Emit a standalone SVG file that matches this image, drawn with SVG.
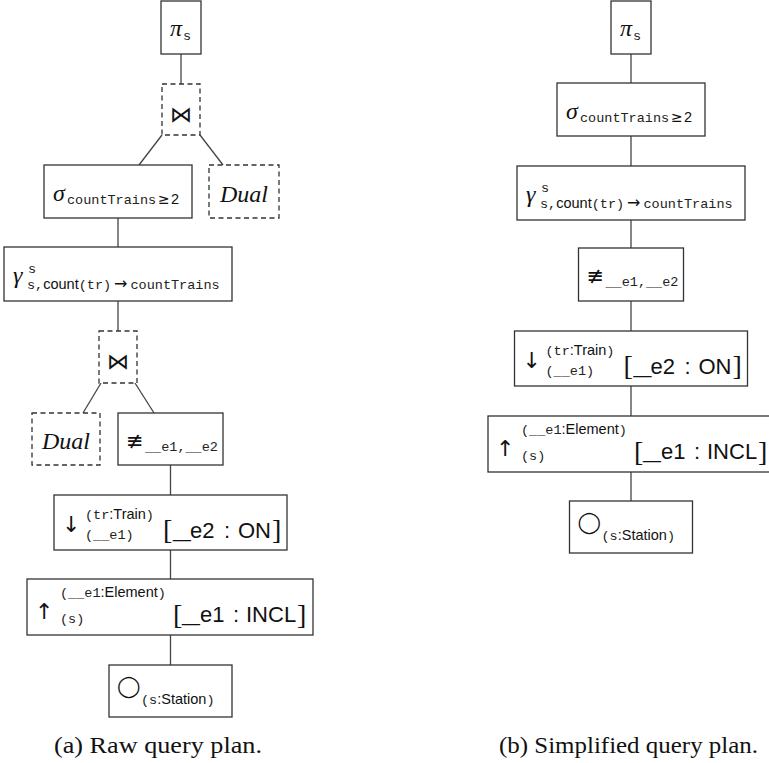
<svg xmlns="http://www.w3.org/2000/svg" width="769" height="763" viewBox="0 0 769 763">
  <style>
    .box { fill: #fff; stroke: #333; stroke-width: 1.3; }
    .dash { fill: #fff; stroke: #333; stroke-width: 1.3; stroke-dasharray: 5 3.5; }
    .edge { fill: none; stroke: #444; stroke-width: 1.3; }
    .mi { font-family: "Liberation Serif", serif; font-style: italic; font-size: 24px; fill: #111; }
    .tt { font-family: "Liberation Mono", monospace; font-size: 13.5px; fill: #222; }
    .sf { font-family: "Liberation Sans", sans-serif; font-size: 14.5px; fill: #111; }
    .sfl { font-family: "Liberation Sans", sans-serif; font-size: 22px; fill: #111; }
    .us { font-size: 16px; }
    .sym { font-family: "DejaVu Sans", sans-serif; fill: #111; }
    .join { font-family: "DejaVu Sans", sans-serif; font-size: 22px; fill: #111; }
    .br { font-family: "Liberation Serif", serif; font-size: 28px; fill: #111; }
    .cap { font-family: "Liberation Serif", serif; font-size: 23.5px; fill: #111; }
  </style>

  <!-- tree edges -->
  <g id="connectors">
    <path class="edge" d="M181 54 V84"/>
    <path class="edge" d="M162 135 L139 165"/>
    <path class="edge" d="M200 135 L223 165"/>
    <path class="edge" d="M118 218 V247"/>
    <path class="edge" d="M118 301 V331"/>
    <path class="edge" d="M101 383 L83 413"/>
    <path class="edge" d="M135 383 L154 413"/>
    <path class="edge" d="M170.5 465 V495"/>
    <path class="edge" d="M170.5 550 V579"/>
    <path class="edge" d="M170.5 635 V665"/>

    <path class="edge" d="M631 54 V83"/>
    <path class="edge" d="M631 136 V166"/>
    <path class="edge" d="M631 220 V248"/>
    <path class="edge" d="M631 301 V331"/>
    <path class="edge" d="M631 386 V416"/>
    <path class="edge" d="M631 472 V501"/>
  </g>

  <!-- ===== (a) raw plan ===== -->
  <g id="a-projection" transform="translate(161,1)">
    <rect class="box" width="40" height="53"/>
    <text class="mi" x="9" y="35">π</text>
    <text class="tt" x="22" y="39">s</text>
  </g>

  <g id="a-join-top" transform="translate(162,84)">
    <rect class="dash" width="38" height="51"/>
    <text class="join" x="19" y="38" text-anchor="middle">⋈</text>
  </g>

  <g id="a-selection" transform="translate(44,165)">
    <rect class="box" width="148" height="53"/>
    <text class="mi" x="9" y="36">σ</text>
    <text class="tt" x="23" y="39">countTrains</text>
    <text class="sym" x="114" y="39" font-size="14">≥</text>
    <text class="sf" x="127" y="39">2</text>
  </g>

  <g id="a-dual-top" transform="translate(209,165)">
    <rect class="dash" width="70" height="53"/>
    <text class="mi" x="35" y="36.5" text-anchor="middle">Dual</text>
  </g>

  <g id="a-grouping" transform="translate(4,247)">
    <rect class="box" width="228" height="54"/>
    <text class="mi" x="9" y="36">γ</text>
    <text class="tt" x="24" y="26">s</text>
    <text y="42"><tspan class="tt" x="23">s,</tspan><tspan class="sf">count</tspan><tspan class="tt">(tr)</tspan><tspan class="sym" font-size="16" dx="3">→</tspan><tspan class="tt" dx="3">countTrains</tspan></text>
  </g>

  <g id="a-join-mid" transform="translate(99,331)">
    <rect class="dash" width="38" height="52"/>
    <text class="join" x="19" y="38" text-anchor="middle">⋈</text>
  </g>

  <g id="a-dual-mid" transform="translate(32,413)">
    <rect class="dash" width="68" height="52"/>
    <text class="mi" x="34" y="36" text-anchor="middle">Dual</text>
  </g>

  <g id="a-all-different" transform="translate(118,413)">
    <rect class="box" width="105" height="52"/>
    <text class="sym" x="8" y="35" font-size="21">≢</text>
    <text class="tt" x="27" y="38">__e1,__e2</text>
  </g>

  <g id="a-expand-in" transform="translate(54,495)">
    <rect class="box" width="233" height="55"/>
    <text class="sym" x="8" y="37" font-size="22">↓</text>
    <text y="23.5"><tspan class="tt" x="31">(tr</tspan><tspan class="sf">:Train</tspan><tspan class="tt">)</tspan></text>
    <text class="tt" x="31" y="43.5">(__e1)</text>
    <text class="br" x="109" y="44">[</text>
    <text class="sfl" y="42.5"><tspan class="us" x="119">__</tspan><tspan x="136">e2</tspan><tspan x="170">:</tspan><tspan x="184">ON</tspan></text>
    <text class="br" x="218" y="44">]</text>
  </g>

  <g id="a-expand-out" transform="translate(27,579)">
    <rect class="box" width="286" height="56"/>
    <text class="sym" x="8" y="40" font-size="22">↑</text>
    <text y="17.5"><tspan class="tt" x="33">(__e1</tspan><tspan class="sf">:Element</tspan><tspan class="tt">)</tspan></text>
    <text class="tt" x="33" y="44">(s)</text>
    <text class="br" x="146" y="44.5">[</text>
    <text class="sfl" y="42.5"><tspan class="us" x="155">__</tspan><tspan x="173">e1</tspan><tspan x="206">:</tspan><tspan x="219">INCL</tspan></text>
    <text class="br" x="270" y="44.5">]</text>
  </g>

  <g id="a-get-vertices" transform="translate(109,665)">
    <rect class="box" width="123" height="52"/>
    <text class="sym" x="8" y="28" font-size="21">◯</text>
    <text y="39"><tspan class="tt" x="32">(s</tspan><tspan class="sf">:Station</tspan><tspan class="tt">)</tspan></text>
  </g>

  <text id="caption-a" class="cap" x="54" y="753" textLength="208" lengthAdjust="spacingAndGlyphs">(a) Raw query plan.</text>

  <!-- ===== (b) simplified plan ===== -->
  <g id="b-projection" transform="translate(611,1)">
    <rect class="box" width="40" height="53"/>
    <text class="mi" x="9" y="35">π</text>
    <text class="tt" x="22" y="39">s</text>
  </g>

  <g id="b-selection" transform="translate(557,83)">
    <rect class="box" width="148" height="53"/>
    <text class="mi" x="9" y="36">σ</text>
    <text class="tt" x="23" y="39">countTrains</text>
    <text class="sym" x="114" y="39" font-size="14">≥</text>
    <text class="sf" x="127" y="39">2</text>
  </g>

  <g id="b-grouping" transform="translate(517,166)">
    <rect class="box" width="228" height="54"/>
    <text class="mi" x="9" y="36">γ</text>
    <text class="tt" x="24" y="26">s</text>
    <text y="42"><tspan class="tt" x="23">s,</tspan><tspan class="sf">count</tspan><tspan class="tt">(tr)</tspan><tspan class="sym" font-size="16" dx="3">→</tspan><tspan class="tt" dx="3">countTrains</tspan></text>
  </g>

  <g id="b-all-different" transform="translate(578.5,248)">
    <rect class="box" width="105" height="53"/>
    <text class="sym" x="8" y="35" font-size="21">≢</text>
    <text class="tt" x="27" y="38">__e1,__e2</text>
  </g>

  <g id="b-expand-in" transform="translate(514.5,331)">
    <rect class="box" width="233" height="55"/>
    <text class="sym" x="8" y="37" font-size="22">↓</text>
    <text y="23.5"><tspan class="tt" x="31">(tr</tspan><tspan class="sf">:Train</tspan><tspan class="tt">)</tspan></text>
    <text class="tt" x="31" y="43.5">(__e1)</text>
    <text class="br" x="109" y="44">[</text>
    <text class="sfl" y="42.5"><tspan class="us" x="119">__</tspan><tspan x="136">e2</tspan><tspan x="170">:</tspan><tspan x="184">ON</tspan></text>
    <text class="br" x="218" y="44">]</text>
  </g>

  <g id="b-expand-out" transform="translate(488,416)">
    <rect class="box" width="286" height="56"/>
    <text class="sym" x="8" y="40" font-size="22">↑</text>
    <text y="17.5"><tspan class="tt" x="33">(__e1</tspan><tspan class="sf">:Element</tspan><tspan class="tt">)</tspan></text>
    <text class="tt" x="33" y="44">(s)</text>
    <text class="br" x="146" y="44.5">[</text>
    <text class="sfl" y="42.5"><tspan class="us" x="155">__</tspan><tspan x="173">e1</tspan><tspan x="206">:</tspan><tspan x="219">INCL</tspan></text>
    <text class="br" x="270" y="44.5">]</text>
  </g>

  <g id="b-get-vertices" transform="translate(569.5,501)">
    <rect class="box" width="123" height="52"/>
    <text class="sym" x="8" y="28" font-size="21">◯</text>
    <text y="39"><tspan class="tt" x="32">(s</tspan><tspan class="sf">:Station</tspan><tspan class="tt">)</tspan></text>
  </g>

  <text id="caption-b" class="cap" x="499" y="753" textLength="259" lengthAdjust="spacingAndGlyphs">(b) Simplified query plan.</text>
</svg>
